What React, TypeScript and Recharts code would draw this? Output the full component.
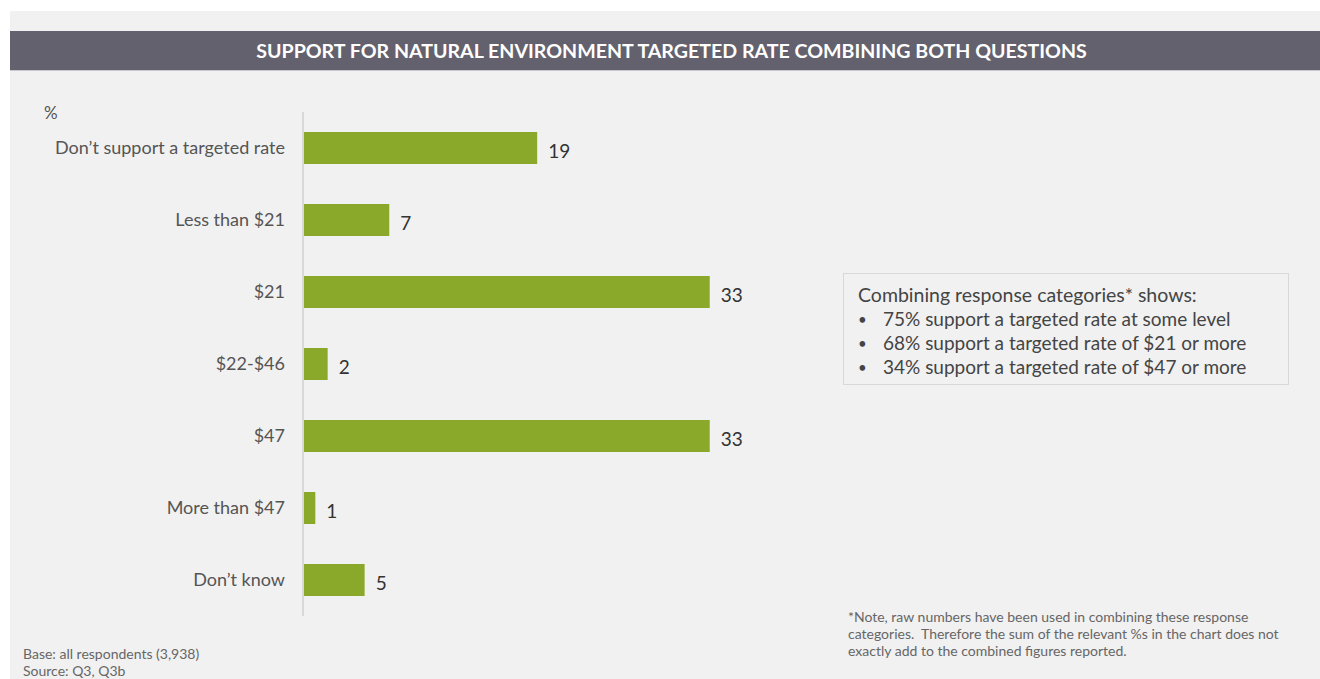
import React from 'react';
import { BarChart, Bar, XAxis, YAxis, LabelList } from 'recharts';

const categories = [
  'Don\u2019t support a targeted rate',
  'Less than $21',
  '$21',
  '$22-$46',
  '$47',
  'More than $47',
  'Don\u2019t know',
];
const values = [19, 7, 33, 2, 33, 1, 5];
const boxLines = [
  '75% support a targeted rate at some level',
  '68% support a targeted rate of $21 or more',
  '34% support a targeted rate of $47 or more',
];
const noteLines = [
  '*Note, raw numbers have been used in combining these response',
  'categories.\u00a0 Therefore the sum of the relevant %s in the chart does not',
  'exactly add to the combined figures reported.',
];

const data = categories.map((c, i) => ({ name: c, value: values[i] }));

const FONT = 'Lato, "Open Sans", sans-serif';

export default function App() {
  return (
    <div style={{ position: 'absolute', left: 0, top: 0, width: 1320, height: 679, background: '#ffffff', fontFamily: FONT, overflow: 'hidden' }}>
      <div style={{ position: 'absolute', left: 10, top: 11, width: 1310, height: 668, background: '#f1f1f1' }} />
      <div style={{ position: 'absolute', left: 10, top: 31, width: 1310, height: 40, background: '#64616e', borderBottom: '1px solid #c9c7d0', display: 'flex', alignItems: 'center', justifyContent: 'center', color: '#ffffff', fontWeight: 700, fontSize: 19.6, paddingLeft: 13, boxSizing: 'border-box' }}>
        SUPPORT FOR NATURAL ENVIRONMENT TARGETED RATE COMBINING BOTH QUESTIONS
      </div>
      <div style={{ position: 'absolute', left: 44, top: 102, fontSize: 17, color: '#555' }}>%</div>
      <div style={{ position: 'absolute', left: 0, top: 0 }}>
        <BarChart width={1320} height={679} layout="vertical" data={data}
          margin={{ top: 112, bottom: 63, left: 13, right: 524 }}>
          <XAxis type="number" domain={[0, 40]} hide />
          <YAxis type="category" dataKey="name" width={290} tickSize={0} tickLine={false} tickMargin={18}
            axisLine={{ stroke: '#d9d9d9', strokeWidth: 2 }}
            tick={{ fontSize: 18, fill: '#555', fontFamily: FONT }} interval={0} />
          <Bar dataKey="value" fill="#8aa829" barSize={32} isAnimationActive={false}>
            <LabelList dataKey="value" position="right" offset={11} dy={3} style={{ fontSize: 19, fill: '#333', fontFamily: FONT }} />
          </Bar>
        </BarChart>
      </div>
      <div style={{ position: 'absolute', left: 843, top: 273, width: 446, height: 112, border: '1px solid #d8d8d8', color: '#444', fontSize: 19.5, lineHeight: '24px', padding: '9px 0 0 14px', boxSizing: 'border-box' }}>
        <div>Combining response categories* shows:</div>
        {boxLines.map((t, i) => (
          <div key={i} style={{ display: 'flex' }}>
            <span style={{ width: 25, fontSize: 15 }}>•</span><span style={{ fontSize: 19 }}>{t}</span>
          </div>
        ))}
      </div>
      <div style={{ position: 'absolute', left: 848, top: 608, fontSize: 14, lineHeight: '17px', color: '#666', whiteSpace: 'nowrap' }}>
        {noteLines.map((t, i) => <div key={i}>{t}</div>)}
      </div>
      <div style={{ position: 'absolute', left: 23, top: 645, fontSize: 14, lineHeight: '17px', color: '#666' }}>
        <div>Base: all respondents (3,938)</div>
        <div>Source: Q3, Q3b</div>
      </div>
    </div>
  );
}
